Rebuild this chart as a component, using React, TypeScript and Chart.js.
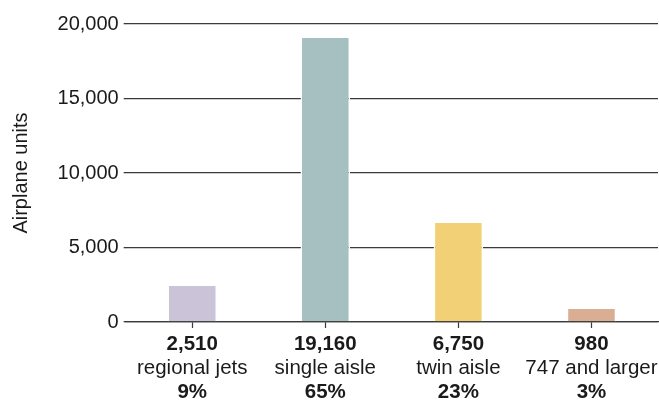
import React, { useEffect, useRef } from "react";
import { Chart, registerables } from "chart.js";

Chart.register(...registerables);

// Fleet forecast by airplane size class
const categories = ["regional jets", "single aisle", "twin aisle", "747 and larger"];
const units = [2510, 19160, 6750, 980];
const valueLabels = ["2,510", "19,160", "6,750", "980"];
const shareLabels = ["9%", "65%", "23%", "3%"];
const barColors = ["#cbc3d8", "#a6bfc1", "#f2d176", "#d9ae93"];
const yTicks = [0, 5000, 10000, 15000, 20000];

const FONT = "'Liberation Sans', Arial, Helvetica, sans-serif";
const INK = "#1a1a1a";
const LABEL_SIZE = 20.5;

// Three-line category labels: bold count, name, bold share
const categoryLabelPlugin = {
  id: "categoryLabels",
  afterDraw(chart: Chart) {
    const { ctx, chartArea } = chart;
    const xScale = chart.scales.x;
    const base = chartArea.bottom;
    ctx.save();
    ctx.fillStyle = INK;
    ctx.textAlign = "center";
    ctx.textBaseline = "alphabetic";
    categories.forEach((name, i) => {
      const x = xScale.getPixelForValue(i);
      ctx.font = `bold ${LABEL_SIZE}px ${FONT}`;
      ctx.fillText(valueLabels[i], x, base + 28);
      ctx.font = `${LABEL_SIZE}px ${FONT}`;
      ctx.fillText(name, x, base + 51.5);
      ctx.font = `bold ${LABEL_SIZE}px ${FONT}`;
      ctx.fillText(shareLabels[i], x, base + 76);
    });
    ctx.restore();
  },
};

export default function App() {
  const canvasRef = useRef<HTMLCanvasElement | null>(null);

  useEffect(() => {
    const canvas = canvasRef.current;
    if (!canvas) return;
    const chart = new Chart(canvas, {
      type: "bar",
      data: {
        labels: categories,
        datasets: [
          {
            data: units,
            backgroundColor: barColors,
            borderColor: "#ffffff",
            borderWidth: 1.5,
            borderSkipped: "bottom",
            barPercentage: 0.372,
            categoryPercentage: 1,
          },
        ],
      },
      options: {
        responsive: false,
        animation: false,
        devicePixelRatio: 1,
        layout: { padding: { top: 24, right: 1, bottom: 75, left: 0 } },
        plugins: {
          legend: { display: false },
          tooltip: { enabled: false },
        },
        scales: {
          x: {
            z: 1,
            grid: {
              offset: false,
              drawOnChartArea: false,
              drawTicks: true,
              tickLength: 6,
              tickWidth: 1.2,
              tickColor: "#3a3a3a",
            },
            border: { display: true, color: "#3a3a3a", width: 1.3 },
            ticks: { display: false },
          },
          y: {
            min: 0,
            max: 20000,
            afterFit(scale: any) {
              scale.width = 125.7;
            },
            afterBuildTicks(scale: any) {
              scale.ticks = yTicks.map((v) => ({ value: v }));
            },
            grid: {
              color: "#3a3a3a",
              lineWidth: 1.3,
              drawTicks: true,
              tickLength: 2,
            },
            border: { display: false },
            ticks: {
              padding: 5,
              color: INK,
              font: { family: FONT, size: 20 },
              callback: (v: any) => Number(v).toLocaleString("en-US"),
            },
            title: {
              display: true,
              text: "Airplane units",
              color: INK,
              font: { family: FONT, size: 20 },
              padding: { top: 9, bottom: 0 },
            },
          },
        },
      },
      plugins: [categoryLabelPlugin],
    });
    return () => chart.destroy();
  }, []);

  return (
    <div style={{ position: "fixed", left: 0, top: 0, width: 659, height: 403, background: "#ffffff" }}>
      <canvas ref={canvasRef} width={659} height={403} style={{ display: "block" }} />
    </div>
  );
}
